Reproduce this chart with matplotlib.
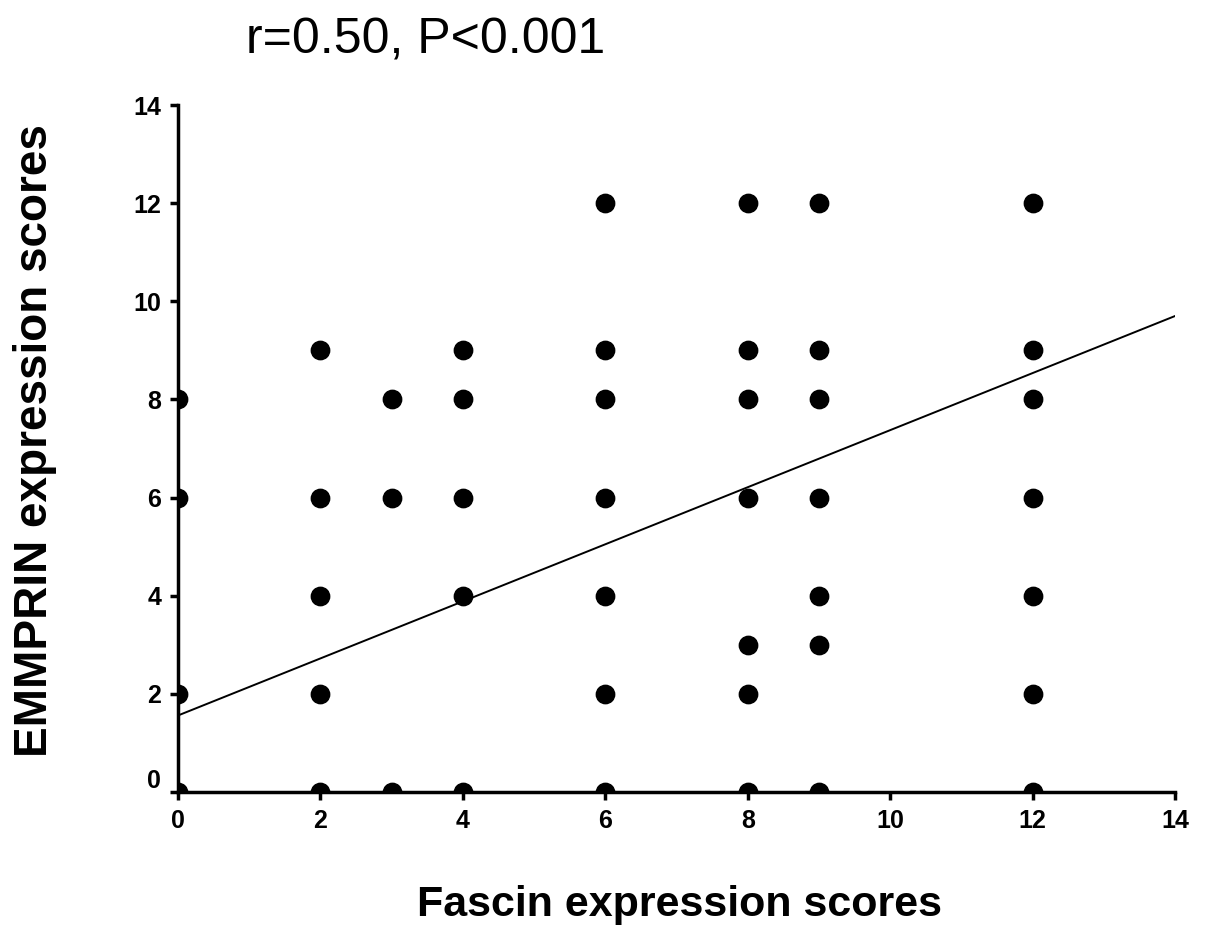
import matplotlib.pyplot as plt
import matplotlib.transforms as mtransforms

plt.rcParams['font.family'] = ['Liberation Sans', 'DejaVu Sans']

# Fascin score -> EMMPRIN scores observed
fascin = [0, 0, 0, 0,
          2, 2, 2, 2, 2,
          3, 3, 3,
          4, 4, 4, 4, 4,
          6, 6, 6, 6, 6, 6, 6,
          8, 8, 8, 8, 8, 8, 8,
          9, 9, 9, 9, 9, 9, 9,
          12, 12, 12, 12, 12, 12, 12]
emmprin = [8, 6, 2, 0,
           9, 6, 4, 2, 0,
           8, 6, 0,
           9, 8, 6, 4, 0,
           12, 9, 8, 6, 4, 2, 0,
           12, 9, 8, 6, 3, 2, 0,
           12, 9, 8, 6, 4, 3, 0,
           12, 9, 8, 6, 4, 2, 0]

# regression line end points
fit_x = [0, 14]
fit_y = [1.56, 9.70]

ticks = [0, 2, 4, 6, 8, 10, 12, 14]

fig = plt.figure(figsize=(12.05, 9.41), dpi=100)
ax = fig.add_axes([0.1477, 0.1583, 0.8274, 0.7301])

ax.scatter(fascin, emmprin, s=175, color='black', zorder=3)
ax.plot(fit_x, fit_y, color='black', linewidth=1.4)

ax.set_xlim(0, 14)
ax.set_ylim(0, 14)
ax.set_xticks(ticks)
ax.set_yticks(ticks)
ax.tick_params(direction='out', length=6, width=2.5, labelsize=18, pad=6)
for lab in ax.get_xticklabels() + ax.get_yticklabels():
    lab.set_fontweight('bold')

# y "0" label sits a bit above the axis line
ylab0 = ax.get_yticklabels()[0]
ylab0.set_transform(ylab0.get_transform() + mtransforms.ScaledTranslation(0, 14 / 100, fig.dpi_scale_trans))

for side in ['top', 'right']:
    ax.spines[side].set_visible(False)
for side in ['left', 'bottom']:
    ax.spines[side].set_linewidth(2.5)

fig.text(0.353, 0.957, 'r=0.50, P<0.001', fontsize=36, ha='center', va='center')
fig.text(0.029, 0.532, 'EMMPRIN expression scores', fontsize=33, fontweight='bold',
         rotation=90, ha='center', va='center')
fig.text(0.564, 0.038, 'Fascin expression scores', fontsize=31, fontweight='bold',
         ha='center', va='center')

fig.savefig('out.png', dpi=100)
